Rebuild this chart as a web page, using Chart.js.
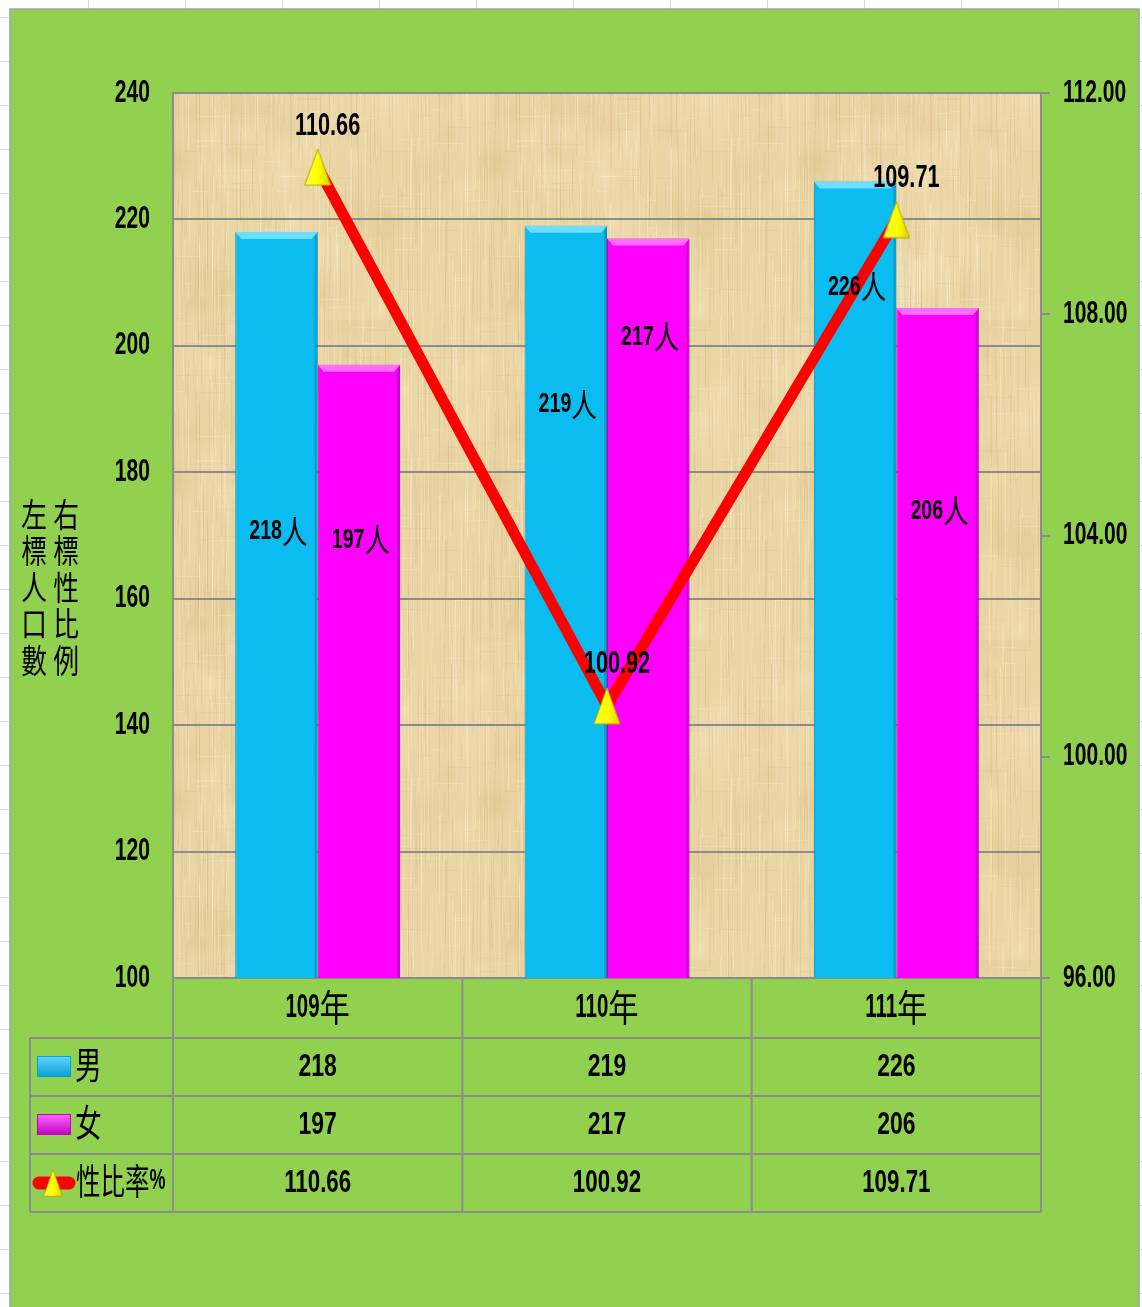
<!DOCTYPE html>
<html>
<head>
<meta charset="utf-8">
<script src="https://cdn.jsdelivr.net/npm/chart.js@4.4.0/dist/chart.umd.min.js"></script>
<style>
  html, body { margin: 0; padding: 0; background: #fff; }
  canvas { display: block; }
</style>
</head>
<body>
<canvas id="popChart" width="1142" height="1307"></canvas>
<script>
// ---- data ----
const years = ['109年', '110年', '111年'];
const male = [218, 219, 226];
const female = [197, 217, 206];
const ratio = [110.66, 100.92, 109.71];
const leftTicks = [100, 120, 140, 160, 180, 200, 220, 240];
const rightTicks = [96, 100, 104, 108, 112];
// where the "人" labels sit inside each bar (left-axis units)
const maleLabelAt = [170.6, 190.7, 209.3];
const femaleLabelAt = [169.3, 201.4, 173.9];

const GREEN = '#92d050';
const GRID = '#8c8c8c';

// draw text: ascii runs bold, CJK runs regular, both squeezed horizontally
function drawText(ctx, s, x, y, o) {
  const size = o.size || 31, csize = o.csize || 34;
  const sxA = o.sxA || 0.7, sxC = o.sxC || 0.78;
  const runs = s.match(/[\x00-\x7f]+|[^\x00-\x7f]+/g) || [];
  const parts = runs.map(r => {
    const cjk = /[^\x00-\x7f]/.test(r);
    const font = cjk ? `${csize}px 'Noto Sans CJK TC', 'Noto Sans CJK SC', sans-serif`
                     : `bold ${size}px 'Liberation Sans', Arial, sans-serif`;
    ctx.font = font;
    const sx = cjk ? sxC : sxA;
    return { r, font, sx, w: ctx.measureText(r).width * sx };
  });
  const total = parts.reduce((a, p) => a + p.w, 0);
  let cx = o.align === 'center' ? x - total / 2 : o.align === 'right' ? x - total : x;
  ctx.save();
  ctx.fillStyle = '#000';
  ctx.textBaseline = 'middle';
  ctx.textAlign = 'left';
  parts.forEach(p => {
    ctx.save();
    ctx.translate(cx, y);
    ctx.scale(p.sx, 1);
    ctx.font = p.font;
    ctx.fillText(p.r, 0, 0);
    ctx.restore();
    cx += p.w;
  });
  ctx.restore();
}

// parchment texture for the plot area
function makeParchment() {
  const c = document.createElement('canvas');
  c.width = 320; c.height = 320;
  const g = c.getContext('2d');
  g.fillStyle = '#ead5a5';
  g.fillRect(0, 0, 320, 320);
  let seed = 7;
  const rnd = () => { seed = (seed * 16807) % 2147483647; return seed / 2147483647; };
  // soft blotches
  for (let i = 0; i < 60; i++) {
    const x = rnd() * 320, y = rnd() * 320, r = 15 + rnd() * 40;
    const gr = g.createRadialGradient(x, y, 0, x, y, r);
    const light = rnd() > 0.5;
    gr.addColorStop(0, light ? 'rgba(248,236,200,0.35)' : 'rgba(214,186,128,0.25)');
    gr.addColorStop(1, 'rgba(234,213,165,0)');
    g.fillStyle = gr;
    g.fillRect(x - r, y - r, r * 2, r * 2);
  }
  // fibres
  for (let i = 0; i < 700; i++) {
    const x = Math.floor(rnd() * 320);
    const y = rnd() * 320;
    const len = 15 + rnd() * 90;
    const light = rnd() > 0.45;
    g.fillStyle = light ? `rgba(250,240,210,${0.12 + rnd() * 0.25})` : `rgba(200,165,105,${0.06 + rnd() * 0.14})`;
    g.fillRect(x, y, 1, len);
    if (y + len > 320) g.fillRect(x, y - 320, 1, len);
  }
  for (let i = 0; i < 140; i++) {
    const y = Math.floor(rnd() * 320);
    const x = rnd() * 320;
    g.fillStyle = rnd() > 0.5 ? 'rgba(250,240,212,0.22)' : 'rgba(200,165,105,0.1)';
    g.fillRect(x, y, 8 + rnd() * 30, 1);
  }
  return c;
}

// stretched yellow triangle marker
function makeTriangle() {
  const c = document.createElement('canvas');
  c.width = 28; c.height = 38;
  const g = c.getContext('2d');
  const grad = g.createLinearGradient(0, 0, 28, 0);
  grad.addColorStop(0, '#ffff40');
  grad.addColorStop(0.5, '#ffff00');
  grad.addColorStop(1, '#e0d000');
  g.beginPath();
  g.moveTo(14, 1); g.lineTo(27, 37); g.lineTo(1, 37); g.closePath();
  g.fillStyle = grad;
  g.fill();
  g.strokeStyle = '#b8a600';
  g.lineWidth = 1;
  g.stroke();
  return c;
}

const parchment = makeParchment();
const triangle = makeTriangle();

const backdrop = {
  id: 'backdrop',
  beforeDraw(chart) {
    const ctx = chart.ctx, a = chart.chartArea;
    ctx.save();
    ctx.fillStyle = '#fff';
    ctx.fillRect(0, 0, chart.width, chart.height);
    // faint spreadsheet cells behind the chart
    ctx.strokeStyle = '#d9d9d9';
    ctx.lineWidth = 1;
    for (let x = 88; x < 1142; x += 97) { ctx.beginPath(); ctx.moveTo(x + 0.5, 0); ctx.lineTo(x + 0.5, 9); ctx.stroke(); }
    for (let y = 17; y < 1307; y += 44) {
      ctx.beginPath(); ctx.moveTo(0, y + 0.5); ctx.lineTo(9, y + 0.5); ctx.stroke();
      ctx.beginPath(); ctx.moveTo(1139, y + 0.5); ctx.lineTo(1142, y + 0.5); ctx.stroke();
    }
    ctx.fillStyle = GREEN;
    ctx.fillRect(10, 9, 1129, 1298);
    ctx.strokeStyle = '#a0a0a0';
    ctx.lineWidth = 1.5;
    ctx.strokeRect(10, 9, 1129, 1310);
    ctx.fillStyle = ctx.createPattern(parchment, 'repeat');
    ctx.fillRect(a.left, a.top, a.right - a.left, a.bottom - a.top);
    ctx.restore();
  }
};

const bevel = {
  id: 'bevel',
  afterDatasetDraw(chart, args) {
    if (chart.data.datasets[args.index].type !== 'bar') return;
    const ctx = chart.ctx;
    const hi = args.index === 0 ? 'rgba(120,225,255,0.9)' : 'rgba(255,120,255,0.9)';
    const lo = args.index === 0 ? 'rgba(0,120,170,0.45)' : 'rgba(150,0,150,0.4)';
    args.meta.data.forEach(bar => {
      const l = bar.x - bar.width / 2, r = bar.x + bar.width / 2, t = bar.y;
      const b = Math.min(bar.base, chart.chartArea.bottom);
      ctx.save();
      ctx.fillStyle = hi;
      ctx.beginPath();
      ctx.moveTo(l, t); ctx.lineTo(r, t); ctx.lineTo(r - 6, t + 7); ctx.lineTo(l + 6, t + 7); ctx.closePath();
      ctx.fill();
      ctx.fillStyle = lo;
      ctx.beginPath();
      ctx.moveTo(r, t); ctx.lineTo(r, b); ctx.lineTo(r - 3, b); ctx.lineTo(r - 3, t + 5); ctx.closePath();
      ctx.fill();
      ctx.restore();
    });
  }
};

const labels = {
  id: 'labels',
  afterDatasetsDraw(chart) {
    const ctx = chart.ctx, ys = chart.scales.y;
    [maleLabelAt, femaleLabelAt].forEach((pos, d) => {
      const meta = chart.getDatasetMeta(d);
      const vals = chart.data.datasets[d].data;
      meta.data.forEach((bar, i) => {
        drawText(ctx, vals[i] + '人', bar.x + 2, ys.getPixelForValue(pos[i]), { align: 'center', size: 28, csize: 32, sxA: 0.7, sxC: 0.8 });
      });
    });
    const lm = chart.getDatasetMeta(2);
    lm.data.forEach((pt, i) => {
      drawText(ctx, ratio[i].toFixed(2), pt.x + 10, pt.y - 41, { align: 'center', size: 31, sxA: 0.7 });
    });
  },
  afterDraw(chart) {
    const ctx = chart.ctx, a = chart.chartArea;
    const ys = chart.scales.y, y1 = chart.scales.y1, xs = chart.scales.x;
    // axis numbers
    leftTicks.forEach(v => drawText(ctx, String(v), 150, ys.getPixelForValue(v), { align: 'right', size: 31, sxA: 0.68 }));
    rightTicks.forEach(v => drawText(ctx, v.toFixed(2), 1063, y1.getPixelForValue(v), { align: 'left', size: 31, sxA: 0.68 }));
    // vertical axis titles
    const t1 = '左標人口數', t2 = '右標性比例';
    for (let i = 0; i < 5; i++) {
      const y = 514 + i * 36.5;
      drawText(ctx, t1[i], 34, y, { align: 'center', csize: 33, sxC: 0.78 });
      drawText(ctx, t2[i], 66, y, { align: 'center', csize: 33, sxC: 0.78 });
    }
    // data table
    const rowH = 58;
    const rows = [a.bottom, a.bottom + 60, a.bottom + 60 + rowH, a.bottom + 60 + rowH * 2, a.bottom + 60 + rowH * 3];
    const step = (a.right - a.left) / years.length;
    ctx.save();
    ctx.strokeStyle = GRID;
    ctx.lineWidth = 2;
    ctx.beginPath();
    for (let r = 1; r < rows.length; r++) {
      ctx.moveTo(30, rows[r]); ctx.lineTo(a.right, rows[r]);
    }
    for (let c = 0; c <= years.length; c++) {
      const x = a.left + c * step;
      ctx.moveTo(x, rows[0]); ctx.lineTo(x, rows[4]);
    }
    ctx.moveTo(30, rows[1]); ctx.lineTo(30, rows[4]);
    ctx.stroke();
    ctx.restore();
    const cy = r => (rows[r] + rows[r + 1]) / 2;
    years.forEach((yr, i) => {
      const x = xs.getPixelForValue(i);
      drawText(ctx, yr, x, cy(0), { align: 'center', size: 33, csize: 37, sxA: 0.62, sxC: 0.82 });
      drawText(ctx, String(male[i]), x, cy(1), { align: 'center', size: 31, sxA: 0.74 });
      drawText(ctx, String(female[i]), x, cy(2), { align: 'center', size: 31, sxA: 0.74 });
      drawText(ctx, ratio[i].toFixed(2), x, cy(3), { align: 'center', size: 31, sxA: 0.72 });
    });
    // legend keys inside the table
    ctx.save();
    const key = (y, c1, c2) => {
      const g = ctx.createLinearGradient(0, y, 0, y + 21);
      g.addColorStop(0, c1); g.addColorStop(1, c2);
      ctx.fillStyle = g;
      ctx.fillRect(37, y, 34, 21);
      ctx.strokeStyle = c2; ctx.lineWidth = 1;
      ctx.strokeRect(37.5, y + 0.5, 33, 20);
    };
    key(cy(1) - 11, '#5fd8ff', '#0a9fd6');
    key(cy(2) - 11, '#ff66ff', '#c000c0');
    ctx.strokeStyle = '#ff0000';
    ctx.lineWidth = 13;
    ctx.lineCap = 'round';
    ctx.beginPath(); ctx.moveTo(39, cy(3)); ctx.lineTo(69, cy(3)); ctx.stroke();
    ctx.drawImage(triangle, 53 - 10, cy(3) - 14, 20, 28);
    ctx.restore();
    drawText(ctx, '男', 75, cy(1) - 2, { align: 'left', csize: 37, sxC: 0.72 });
    drawText(ctx, '女', 75, cy(2) - 2, { align: 'left', csize: 37, sxC: 0.72 });
    drawText(ctx, '性比率%', 76, cy(3) - 2, { align: 'left', size: 30, csize: 36, sxA: 0.6, sxC: 0.68 });
  }
};

const ctx = document.getElementById('popChart').getContext('2d');

new Chart(ctx, {
  data: {
    labels: years,
    datasets: [
      {
        type: 'bar',
        label: '男',
        data: male,
        backgroundColor: '#0bbcf0',
        borderColor: '#0996c4',
        borderWidth: 1,
        categoryPercentage: 0.57,
        barPercentage: 1.0,
        yAxisID: 'y',
        order: 1
      },
      {
        type: 'bar',
        label: '女',
        data: female,
        backgroundColor: '#ff00ff',
        borderColor: '#c400c4',
        borderWidth: 1,
        categoryPercentage: 0.57,
        barPercentage: 1.0,
        yAxisID: 'y',
        order: 1
      },
      {
        type: 'line',
        label: '性比率%',
        data: ratio,
        borderColor: '#ff0000',
        borderWidth: 11,
        tension: 0,
        pointStyle: triangle,
        pointRadius: 16,
        yAxisID: 'y1',
        order: 0
      }
    ]
  },
  options: {
    responsive: false,
    animation: false,
    layout: { padding: { top: 93, left: 0, right: 0, bottom: 0 } },
    plugins: {
      legend: { display: false },
      tooltip: { enabled: false }
    },
    scales: {
      x: {
        grid: { display: false, drawTicks: false },
        border: { display: false },
        ticks: { display: false },
        afterFit(s) { s.height = 329; }
      },
      y: {
        min: leftTicks[0],
        max: leftTicks[leftTicks.length - 1],
        ticks: { stepSize: leftTicks[1] - leftTicks[0], display: false },
        grid: { color: GRID, lineWidth: 2, drawTicks: false },
        border: { display: true, color: GRID, width: 2 },
        afterFit(s) { s.width = 173; }
      },
      y1: {
        position: 'right',
        min: rightTicks[0],
        max: rightTicks[rightTicks.length - 1],
        ticks: { stepSize: rightTicks[1] - rightTicks[0], display: false },
        grid: { drawOnChartArea: false, color: GRID, lineWidth: 2, tickLength: 9 },
        border: { display: true, color: GRID, width: 2 },
        afterFit(s) { s.width = 101; }
      }
    }
  },
  plugins: [backdrop, bevel, labels]
});
</script>
</body>
</html>
